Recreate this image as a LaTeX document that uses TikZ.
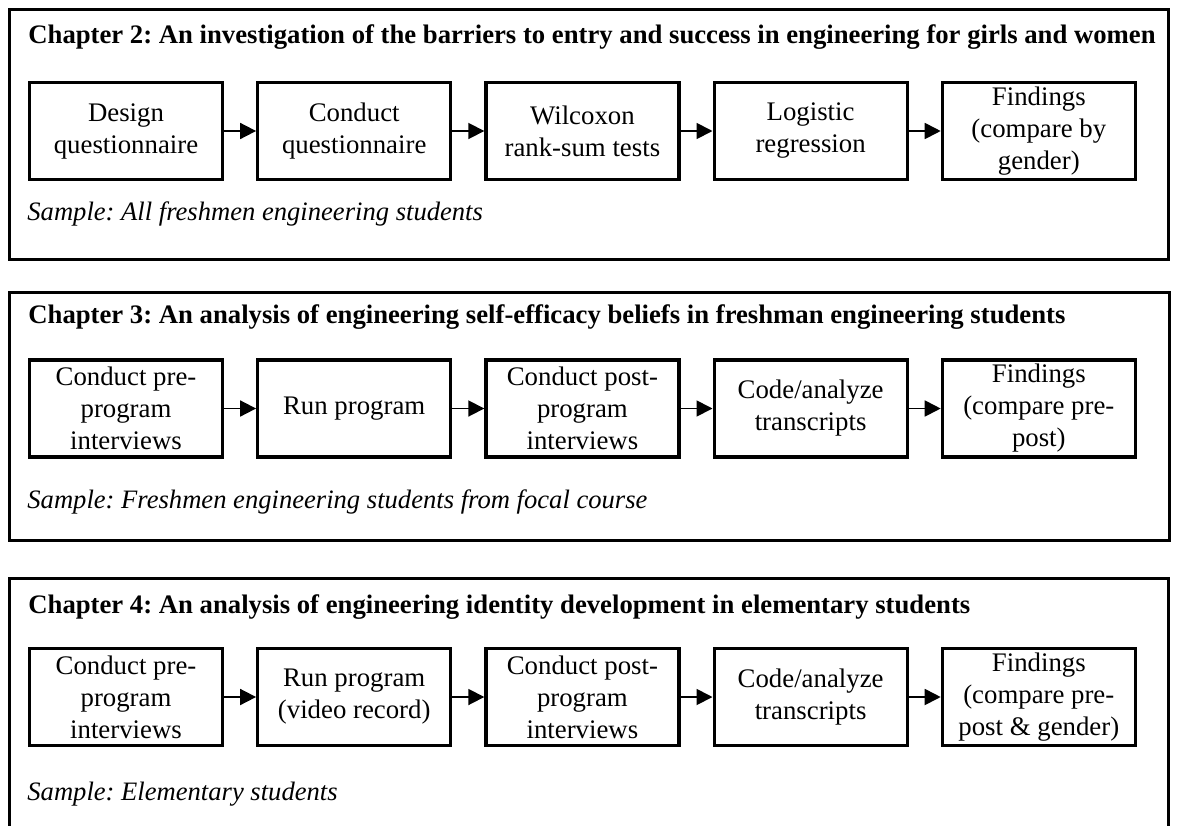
\documentclass[tikz,border=0pt]{standalone}
\usepackage{fontspec}
\setmainfont{Liberation Serif}
\usetikzlibrary{positioning,arrows.meta}
\frenchspacing

\tikzset{
  stepbox/.style = {draw, line width = 1.6pt, shape = rectangle, minimum width = 96.5pt, minimum height = 48.5pt, inner sep = 1pt, align = center, font = \fontsize{13.4}{16}\selectfont},
  flow/.style = {line width = 0.9pt, -{Triangle[length = 8pt, width = 8pt]}},
  panel/.style = {line width = 1.5pt},
  chaptitle/.style = {anchor = base west, inner sep = 0pt, font = \fontsize{13.35}{16}\selectfont\bfseries},
  sample/.style = {anchor = base west, inner sep = 0pt, font = \fontsize{13.3}{16}\selectfont\itshape}
}

\begin{document}
\begin{tikzpicture}[x = 0.5pt, y = -0.5pt, node distance = 16pt]
\useasboundingbox (0,0) rectangle (1177,825);

% Chapter 2
\draw[panel] (9.5,9.5) rectangle (1168,259);
\node[chaptitle] (2t) at (28,43) {Chapter 2: An investigation of the barriers to entry and success in engineering for girls and women};
\node[stepbox] (21) at (126,131) {Design\\questionnaire};
\node[stepbox, right = of 21] (22) {Conduct\\questionnaire};
\node[stepbox, right = of 22] (23) {Wilcoxon\\rank-sum tests};
\node[stepbox, right = of 23] (24) {Logistic\\regression};
\node[stepbox, right = of 24] (25) {Findings\\(compare by\\gender)};
\draw[flow] (21) -- (22);
\draw[flow] (22) -- (23);
\draw[flow] (23) -- (24);
\draw[flow] (24) -- (25);
\node[sample] (2s) at (27,220) {Sample: All freshmen engineering students};

% Chapter 3
\draw[panel] (9.5,292.5) rectangle (1169.5,540.5);
\node[chaptitle] (3t) at (28,323) {Chapter 3: An analysis of engineering self-efficacy beliefs in freshman engineering students};
\node[stepbox] (31) at (126,408.5) {Conduct pre-\\program\\interviews};
\node[stepbox, right = of 31] (32) {Run program};
\node[stepbox, right = of 32] (33) {Conduct post-\\program\\interviews};
\node[stepbox, right = of 33] (34) {Code/analyze\\transcripts};
\node[stepbox, right = of 34] (35) {Findings\\(compare pre-\\post)};
\draw[flow] (31) -- (32);
\draw[flow] (32) -- (33);
\draw[flow] (33) -- (34);
\draw[flow] (34) -- (35);
\node[sample] (3s) at (27,508) {Sample: Freshmen engineering students from focal course};

% Chapter 4
\begin{scope}
\clip (0,0) rectangle (1177,825);
\draw[panel] (9.5,578.5) rectangle (1168.5,840);
\end{scope}
\node[chaptitle] (4t) at (28,613) {Chapter 4: An analysis of engineering identity development in elementary students};
\node[stepbox] (41) at (126,697) {Conduct pre-\\program\\interviews};
\node[stepbox, right = of 41] (42) {Run program\\(video record)};
\node[stepbox, right = of 42] (43) {Conduct post-\\program\\interviews};
\node[stepbox, right = of 43] (44) {Code/analyze\\transcripts};
\node[stepbox, right = of 44] (45) {Findings\\(compare pre-\\post \& gender)};
\draw[flow] (41) -- (42);
\draw[flow] (42) -- (43);
\draw[flow] (43) -- (44);
\draw[flow] (44) -- (45);
\node[sample] (4s) at (27,800) {Sample: Elementary students};
\end{tikzpicture}
\end{document}
